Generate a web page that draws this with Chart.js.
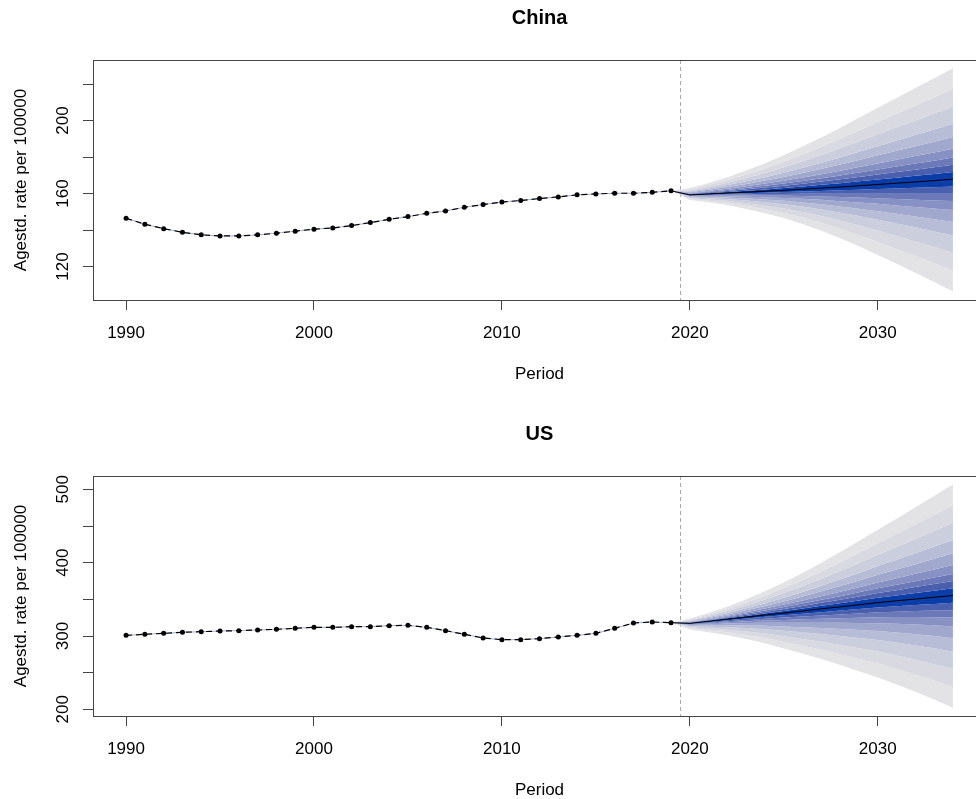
<!DOCTYPE html>
<html>
<head>
<meta charset="utf-8">
<script src="https://cdn.jsdelivr.net/npm/chart.js@4.4.1/dist/chart.umd.min.js"></script>
<style>
    html, body { margin: 0; padding: 0; background: #fff; overflow: hidden; }
    .panel { width: 1000px; height: 416px; }
</style>
</head>
<body>
<div class="panel"><canvas id="china" width="1000" height="416"></canvas></div>
<div class="panel"><canvas id="us" width="1000" height="416"></canvas></div>
<script>
// --- Data ---

const obsYears = [1990, 1991, 1992, 1993, 1994, 1995, 1996, 1997, 1998, 1999,
                  2000, 2001, 2002, 2003, 2004, 2005, 2006, 2007, 2008, 2009,
                  2010, 2011, 2012, 2013, 2014, 2015, 2016, 2017, 2018, 2019];

const chinaObs = [146.5, 143.2, 140.8, 138.8, 137.4, 136.8, 136.8, 137.4, 138.3, 139.4,
                  140.5, 141.2, 142.5, 144.1, 145.9, 147.4, 149.2, 150.5, 152.5, 154.0,
                  155.4, 156.2, 157.3, 158.2, 159.3, 159.8, 160.2, 160.2, 160.7, 161.5];

const usObs = [300.9, 302.3, 303.6, 305.0, 305.9, 306.8, 307.3, 308.2, 309.1, 310.5,
               311.8, 311.8, 312.7, 312.7, 314.1, 314.5, 311.8, 307.3, 302.3, 297.3,
               295.0, 295.0, 296.4, 298.6, 300.9, 303.6, 310.5, 317.7, 319.1, 318.2];

const fcYears = [2019, 2020, 2021, 2022, 2023, 2024, 2025, 2026, 2027,
                 2028, 2029, 2030, 2031, 2032, 2033, 2034];

const chinaMedian = [161.5, 159.3, 159.8, 160.3, 160.8, 161.3, 161.8, 162.4, 163.0,
                     163.6, 164.3, 165.0, 165.7, 166.4, 167.1, 167.9];
const chinaUpper  = [161.5, 163.0, 165.8, 169.0, 172.6, 176.6, 181.0, 185.8, 190.8,
                     196.0, 201.5, 207.0, 212.4, 217.8, 223.2, 228.7];
const chinaLower  = [161.5, 156.5, 155.2, 153.8, 151.6, 149.2, 146.6, 143.4, 139.6,
                     135.5, 131.1, 126.4, 121.5, 116.6, 111.5, 106.3];

const usMedian = [318.2, 317.3, 320.1, 323.0, 325.8, 328.6, 331.4, 334.2, 337.0,
                  339.8, 342.6, 345.6, 348.0, 350.4, 352.8, 355.2];
const usUpper  = [318.2, 324.0, 331.5, 340.0, 350.0, 361.0, 373.0, 386.0, 400.0,
                  414.5, 429.5, 445.0, 460.0, 475.5, 491.0, 506.5];
const usLower  = [318.2, 309.0, 305.0, 301.0, 296.0, 290.0, 283.0, 276.0, 268.5,
                  260.5, 252.0, 243.5, 234.0, 224.0, 213.5, 202.0];

// fan band edges, as share of the outer interval (outer -> inner)
const fanLevels = [1, 0.815, 0.655, 0.5, 0.38, 0.275, 0.195, 0.13, 0.065];

const xTicks = [1990, 2000, 2010, 2020, 2030];
const chinaYTicks = [120, 140, 160, 180, 200, 220];
const chinaYLabels = [120, 160, 200];
const usYTicks = [200, 250, 300, 350, 400, 450, 500];
const usYLabels = [200, 300, 400, 500];

// --- Styles ---

const FONT = "'Liberation Sans', Arial, sans-serif";
const AXIS_COLOR = "#444";
const FAN_COLORS = [   // outer strip -> core
    "#e3e3e6", "#d9dae1", "#cbcedd", "#b8bdd7", "#a1a8ce",
    "#8791c4", "#6b79b9", "#4a5fae", "#0b3da9",
];

Chart.defaults.font.family = FONT;
Chart.defaults.color = "#000";

// box, title, rotated y labels, forecast cut line
const panelDecor = {
    id: "panelDecor",
    beforeDatasetsDraw(chart, args, opts) {
        const { ctx, chartArea } = chart;
        const x = chart.scales.x.getPixelForValue(opts.cutYear);
        ctx.save();
        ctx.strokeStyle = "#aaa";
        ctx.lineWidth = 1;
        ctx.setLineDash([4, 3]);
        ctx.beginPath();
        ctx.moveTo(Math.round(x) + 0.5, chartArea.top);
        ctx.lineTo(Math.round(x) + 0.5, chartArea.bottom);
        ctx.stroke();
        ctx.restore();
    },
    afterDraw(chart, args, opts) {
        const { ctx, chartArea } = chart;
        ctx.save();
        ctx.strokeStyle = AXIS_COLOR;
        ctx.lineWidth = 1;
        ctx.strokeRect(chartArea.left + 0.5, chartArea.top + 0.5,
                       chartArea.right - chartArea.left, chartArea.bottom - chartArea.top);

        ctx.fillStyle = "#000";
        ctx.textAlign = "center";
        ctx.textBaseline = "middle";
        ctx.font = "bold 20px " + FONT;
        ctx.fillText(opts.title, (chartArea.left + chartArea.right) / 2, 18);

        ctx.font = "17px " + FONT;
        const yScale = chart.scales.y;
        for (const v of opts.yLabels) {
            ctx.save();
            ctx.translate(63, yScale.getPixelForValue(v));
            ctx.rotate(-Math.PI / 2);
            ctx.fillText(String(v), 0, 0);
            ctx.restore();
        }
        ctx.restore();
    },
};

function fanDatasets(median, upper, lower) {
    const edges = [];
    fanLevels.forEach((lv, i) => edges.push({ side: "up", lv, color: FAN_COLORS[i] }));
    for (let i = fanLevels.length - 1; i >= 0; i--) {
        edges.push({ side: "lo", lv: fanLevels[i], color: i > 0 ? FAN_COLORS[i - 1] : null });
    }
    return edges.map(e => ({
        data: fcYears.map((yr, k) => {
            const bound = e.side === "up" ? upper[k] : lower[k];
            return { x: yr, y: median[k] + e.lv * (bound - median[k]) };
        }),
        borderWidth: 0,
        pointRadius: 0,
        fill: e.color ? "+1" : false,
        backgroundColor: e.color || "transparent",
        order: 3,
    }));
}

function pairs(xs, ys) {
    return xs.map((x, i) => ({ x, y: ys[i] }));
}

function createFanChart(canvasId, title, obs, median, upper, lower, yMin, yMax, yTicks, yLabels) {
    const ctx = document.getElementById(canvasId).getContext("2d");
    const datasets = [
        {   // observed, dashed with points
            data: pairs(obsYears, obs),
            borderColor: "#000",
            borderWidth: 1.2,
            borderDash: [6, 4],
            pointRadius: 2.5,
            pointBackgroundColor: "#000",
            pointBorderWidth: 0,
            order: 1,
        },
        {   // fitted line under the dashes
            data: pairs(obsYears, obs),
            borderColor: "#8a97c4",
            borderWidth: 0.8,
            pointRadius: 0,
            order: 2,
        },
        {   // forecast median
            data: pairs(fcYears, median),
            borderColor: "#000",
            borderWidth: 1,
            pointRadius: 0,
            order: 1,
        },
        ...fanDatasets(median, upper, lower),
    ];
    return new Chart(ctx, {
        type: "line",
        data: { datasets },
        plugins: [panelDecor],
        options: {
            responsive: false,
            animation: false,
            events: [],
            layout: { padding: { top: 60, right: 14, left: 0, bottom: 0 } },
            elements: { line: { tension: 0 } },
            plugins: {
                legend: { display: false },
                tooltip: { enabled: false },
                panelDecor: { title, yLabels, cutYear: 2019.5 },
            },
            scales: {
                x: {
                    type: "linear",
                    min: 1988.24,
                    max: 2035.76,
                    afterBuildTicks: s => { s.ticks = xTicks.map(v => ({ value: v })); },
                    afterFit: s => { s.height = 116; },
                    ticks: {
                        font: { size: 17 },
                        color: "#000",
                        padding: 13,
                        maxRotation: 0,
                        autoSkip: false,
                        callback: v => String(v),
                    },
                    grid: { drawOnChartArea: false, tickLength: 10, color: AXIS_COLOR },
                    border: { display: false },
                    title: {
                        display: true,
                        text: "Period",
                        font: { size: 17 },
                        color: "#000",
                        padding: { top: 0, bottom: 31 },
                    },
                },
                y: {
                    min: yMin,
                    max: yMax,
                    afterBuildTicks: s => { s.ticks = yTicks.map(v => ({ value: v })); },
                    afterFit: s => { s.width = 93; },
                    ticks: { display: false },
                    grid: { drawOnChartArea: false, tickLength: 10, color: AXIS_COLOR },
                    border: { display: false },
                    title: {
                        display: true,
                        text: "Agestd. rate per 100000",
                        font: { size: 17 },
                        color: "#000",
                        padding: { top: 11, bottom: 0 },
                    },
                },
            },
        },
    });
}

createFanChart("china", "China", chinaObs, chinaMedian, chinaUpper, chinaLower,
               101.7, 233.2, chinaYTicks, chinaYLabels);
createFanChart("us", "US", usObs, usMedian, usUpper, usLower,
               190.9, 518.2, usYTicks, usYLabels);
</script>
</body>
</html>
